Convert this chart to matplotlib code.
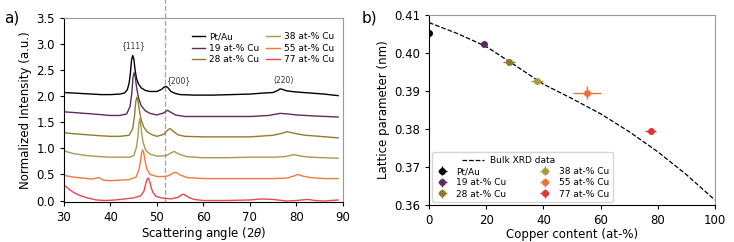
import matplotlib
matplotlib.use('Agg')
import matplotlib.pyplot as plt
from matplotlib.lines import Line2D

# XRD patterns (already offset)
pt_x = [30, 32, 34, 36, 38, 40, 42, 43, 43.6, 44.0, 44.3, 44.55, 44.8, 45.05, 45.3, 45.6, 46.0, 46.6, 47.5, 48.5, 50,
        51, 51.5, 51.9, 52.4, 53, 54, 55, 58, 62, 66, 70, 73, 75, 76, 76.5, 77, 78, 80, 83, 86, 89]
pt_y = [2.07, 2.06, 2.05, 2.04, 2.03, 2.03, 2.04, 2.06, 2.12, 2.24, 2.45, 2.70, 2.78, 2.70, 2.50, 2.34, 2.24, 2.16,
        2.11, 2.09, 2.09, 2.13, 2.17, 2.19, 2.16, 2.09, 2.05, 2.03, 2.02, 2.02, 2.03, 2.04, 2.06, 2.07, 2.11, 2.14,
        2.13, 2.10, 2.08, 2.06, 2.04, 2.01]
cu19_x = [30, 33, 36, 40, 42, 43.5, 44.2, 44.6, 44.85, 45.1, 45.35, 45.6, 46.0, 46.6, 47.5, 48.5, 50, 51.5, 52.3, 53,
          54, 56, 60, 65, 70, 74, 76.5, 78, 80, 84, 89]
cu19_y = [1.70, 1.68, 1.66, 1.63, 1.63, 1.66, 1.80, 2.06, 2.36, 2.45, 2.36, 2.18, 1.98, 1.82, 1.72, 1.67, 1.64, 1.68,
          1.73, 1.69, 1.64, 1.61, 1.61, 1.61, 1.61, 1.63, 1.67, 1.66, 1.64, 1.62, 1.60]
cu28_x = [30, 32, 35, 38, 40, 42, 44, 44.8, 45.2, 45.45, 45.7, 45.95, 46.2, 46.6, 47.2, 48, 49, 50, 51.5, 52.3, 52.8,
          53.5, 54.5, 56, 60, 65, 70, 75, 77, 78, 79, 80, 82, 85, 89]
cu28_y = [1.30, 1.28, 1.26, 1.24, 1.23, 1.23, 1.25, 1.38, 1.64, 1.90, 1.98, 1.90, 1.74, 1.55, 1.40, 1.31, 1.26, 1.23,
          1.27, 1.35, 1.38, 1.33, 1.26, 1.23, 1.22, 1.22, 1.22, 1.25, 1.29, 1.32, 1.30, 1.28, 1.25, 1.23, 1.20]
cu38_x = [30, 32, 35, 38, 40, 42, 44, 45, 45.6, 45.9, 46.1, 46.3, 46.5, 46.7, 47.0, 47.6, 48.5, 50, 52, 53.2, 53.7,
          54.3, 55, 56.5, 60, 65, 70, 75, 77.5, 79.5, 81, 83, 86, 89]
cu38_y = [0.95, 0.90, 0.86, 0.84, 0.83, 0.83, 0.83, 0.86, 1.02, 1.22, 1.45, 1.57, 1.48, 1.30, 1.12, 0.96, 0.89, 0.85,
          0.86, 0.92, 0.94, 0.91, 0.88, 0.84, 0.82, 0.82, 0.83, 0.83, 0.84, 0.88, 0.85, 0.83, 0.82, 0.81]
cu55_x = [30, 32, 34, 36, 37.5, 38.5, 40, 42, 44, 45.5, 46.1, 46.5, 46.75, 46.95, 47.15, 47.45, 47.8, 48.5, 50, 52,
          53, 53.8, 54.3, 55, 56.5, 60, 65, 70, 75, 78, 79.5, 80.3, 81.3, 83, 86, 89]
cu55_y = [0.48, 0.45, 0.43, 0.41, 0.44, 0.39, 0.38, 0.39, 0.40, 0.45, 0.58, 0.78, 0.93, 0.97, 0.92, 0.76, 0.61, 0.50,
          0.46, 0.46, 0.50, 0.54, 0.53, 0.49, 0.44, 0.42, 0.42, 0.42, 0.42, 0.43, 0.47, 0.50, 0.47, 0.44, 0.42, 0.42]
cu77_x = [30, 31, 32, 33, 35, 37, 39, 41, 43, 45, 46.5, 47.2, 47.6, 47.9, 48.15, 48.4, 48.7, 49.1, 49.8, 51, 53, 54.5,
          55.3, 55.8, 56.3, 56.8, 58, 60, 65, 70, 72.5, 75, 78, 80, 82.5, 84, 86, 89]
cu77_y = [0.30, 0.22, 0.16, 0.11, 0.05, 0.01, 0.0, 0.01, 0.03, 0.05, 0.09, 0.18, 0.32, 0.41, 0.43, 0.38, 0.27, 0.16,
          0.08, 0.05, 0.03, 0.06, 0.11, 0.12, 0.09, 0.06, 0.02, 0.0, 0.0, 0.01, 0.03, 0.02, -0.01, 0.0, 0.02, 0.0,
          -0.01, 0.01]

labels = ['Pt/Au', '19 at-% Cu', '28 at-% Cu', '38 at-% Cu', '55 at-% Cu', '77 at-% Cu']
colors = ['#000000', '#5c2d5e', '#8f7d2e', '#a8994f', '#f07a3c', '#ee4650']
curves = [(pt_x, pt_y), (cu19_x, cu19_y), (cu28_x, cu28_y), (cu38_x, cu38_y), (cu55_x, cu55_y), (cu77_x, cu77_y)]

# lattice parameter vs copper content
cu_content = [0, 19.2, 27.9, 37.8, 55.3, 77.5]
lattice = [0.4053, 0.4023, 0.3977, 0.3925, 0.3895, 0.3795]
cu_err = [0.5, 1.0, 2.0, 2.2, 5.0, 2.0]
lattice_err = [0.0004, 0.0004, 0.0005, 0.0005, 0.0017, 0.0005]
pt_colors = ['#000000', '#5b2c5e', '#8c7a2e', '#ad9a3a', '#e8743a', '#e03535']
bulk_x = [0, 10, 20, 30, 40, 50, 60, 70, 80, 90, 100]
bulk_y = [0.408, 0.4051, 0.4017, 0.3968, 0.3918, 0.3880, 0.3840, 0.3793, 0.3740, 0.3680, 0.3613]

fs = 8.5
fig = plt.figure(figsize=(7.34, 2.42), dpi=100)
ax1 = fig.add_axes([0.0872, 0.165, 0.3798, 0.761])
ax2 = fig.add_axes([0.5845, 0.153, 0.3895, 0.785])

for ax in (ax1, ax2):
    ax.spines['top'].set_color('#999999')
    ax.spines['right'].set_color('#999999')
    ax.tick_params(labelsize=fs, width=0.8, length=3)

# a) XRD
for (x, y), lbl, c in zip(curves, labels, colors):
    ax1.plot(x, y, color=c, lw=1, label=lbl)
ax1.axvline(51.8, ymin=0, ymax=1.1, color='#aaaaaa', ls='--', lw=1, clip_on=False, zorder=0)
ax1.set_xlim(30, 90)
ax1.set_ylim(-0.03, 3.5)
ax1.set_yticks([0, 0.5, 1.0, 1.5, 2.0, 2.5, 3.0, 3.5])
ax1.set_xlabel(r'Scattering angle (2$\theta$)', fontsize=fs, labelpad=1)
ax1.set_ylabel('Normalized Intensity (a.u.)', fontsize=fs, labelpad=3)
ax1.text(44.8, 2.96, '{111}', fontsize=5.5, ha='center', va='center', color='#333333')
ax1.text(54.6, 2.3, '{200}', fontsize=5.5, ha='center', va='center', color='#333333')
ax1.text(77.2, 2.3, '(220)', fontsize=5.5, ha='center', va='center', color='#333333')
ax1.legend(ncol=2, loc='upper right', frameon=False, fontsize=6.5, handlelength=1.5, handletextpad=0.4,
           columnspacing=0.8, labelspacing=0.25, borderaxespad=0.6, bbox_to_anchor=(1.0, 0.97))

# b) lattice parameter
ax2.plot(bulk_x, bulk_y, color='black', ls='--', lw=0.9)
handles = []
for xi, yi, xe, ye, lbl, c in zip(cu_content, lattice, cu_err, lattice_err, labels, pt_colors):
    h = ax2.errorbar(xi, yi, xerr=xe, yerr=ye, fmt='o', color=c, ms=4, elinewidth=1, label=lbl)
    handles.append(h)
ax2.set_xlim(0, 100)
ax2.set_ylim(0.36, 0.41)
ax2.set_yticks([0.36, 0.37, 0.38, 0.39, 0.40, 0.41])
ax2.set_xlabel('Copper content (at-%)', fontsize=fs, labelpad=1)
ax2.set_ylabel('Lattice parameter (nm)', fontsize=fs, labelpad=3)
leg = ax2.legend(handles=handles, ncol=2, loc='lower left', fontsize=6.5, title='Bulk XRD data',
                 title_fontsize=6.5, handlelength=1.5, handletextpad=0.8, columnspacing=3.5,
                 labelspacing=0.25, borderaxespad=0.3, fancybox=True, edgecolor='#cccccc')

fig.text(0.005, 0.925, 'a)', fontsize=11, va='center')
fig.text(0.492, 0.925, 'b)', fontsize=11, va='center')

# dashed handle in front of the legend title
fig.canvas.draw()
bb = leg.get_title().get_window_extent()
inv = fig.transFigure.inverted()
x0, y0 = inv.transform((bb.x0 - 28, (bb.y0 + bb.y1) / 2))
x1, _ = inv.transform((bb.x0 - 6, 0))
fig.add_artist(Line2D([x0, x1], [y0, y0], color='black', ls='--', lw=0.9, transform=fig.transFigure))

fig.savefig('out.png', dpi=100)
